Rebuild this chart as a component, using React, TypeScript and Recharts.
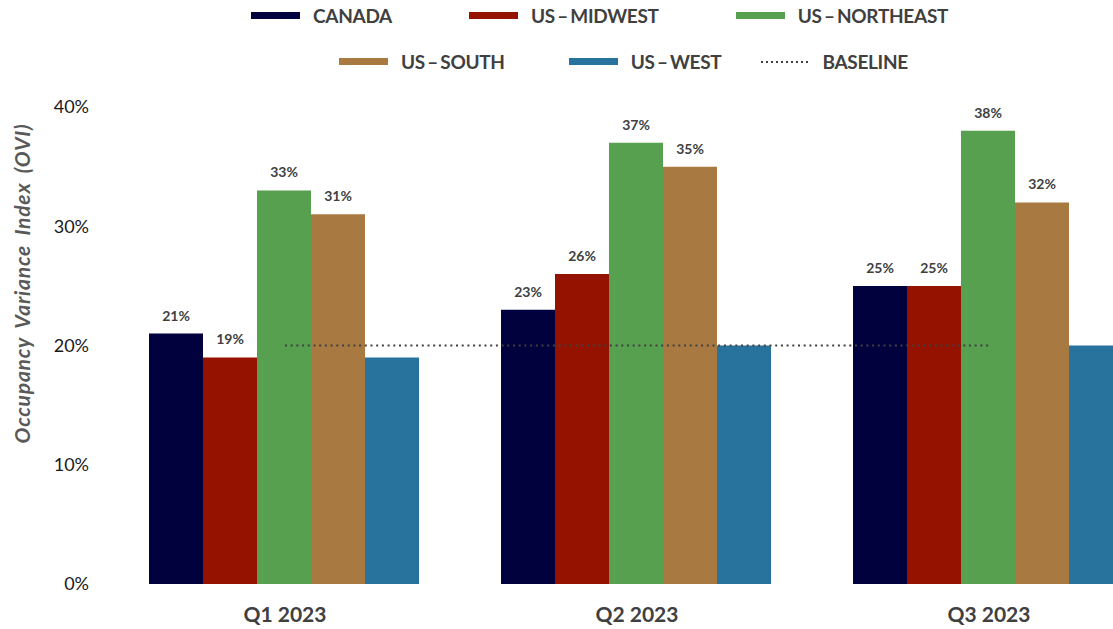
import { Bar, ComposedChart, LabelList, Legend, Line, XAxis, YAxis } from "recharts"

const quarters = ["Q1 2023", "Q2 2023", "Q3 2023"]
const canada = [21, 23, 25]
const usMidwest = [19, 26, 25]
const usNortheast = [33, 37, 38]
const usSouth = [31, 35, 32]
const usWest = [19, 20, 20]
const baseline = [20, 20, 20]
const yTicks = [0, 10, 20, 30, 40]

const data = quarters.map((quarter, i) => ({
  quarter,
  canada: canada[i],
  midwest: usMidwest[i],
  northeast: usNortheast[i],
  south: usSouth[i],
  west: usWest[i],
  baseline: baseline[i],
}))

const FONT = "Lato, 'Open Sans', sans-serif"
const TEXT_GRAY = "#404040"

const labelStyle = { fill: TEXT_GRAY, fontSize: 14, fontWeight: 700, fontFamily: FONT }
const pct = (v: any) => `${v}%`

// legend rows: where each row starts and the gaps between its items
const legendRows = [
  { count: 3, left: 251, top: 4, gaps: [77, 77] },
  { count: 3, left: 339, top: 50, gaps: [64, 40] },
]

function ChartLegend(props: any) {
  const raw = props.payload || []
  // bars first, then the dotted baseline
  const payload = [...raw.filter((e: any) => e.type !== "plainline"), ...raw.filter((e: any) => e.type === "plainline")]
  let start = 0
  return (
    <div style={{ position: "relative", height: 86, width: 1113, fontFamily: FONT }}>
      {legendRows.map((row, r) => {
        const items = payload.slice(start, start + row.count)
        start += row.count
        return (
          <div key={r} style={{ position: "absolute", top: row.top, left: row.left, display: "flex" }}>
            {items.map((entry: any, i: number) => (
              <div
                key={entry.value}
                style={{ display: "flex", alignItems: "center", gap: 13, marginRight: row.gaps[i] || 0 }}
              >
                {entry.type === "plainline" ? (
                  <svg width={48} height={10}>
                    <line x1={0} y1={5} x2={48} y2={5} stroke={entry.color} strokeWidth={2} strokeDasharray="2 3" />
                  </svg>
                ) : (
                  <div style={{ width: 49, height: 7, background: entry.color }} />
                )}
                <span style={{ color: TEXT_GRAY, fontSize: 19, fontWeight: 700, letterSpacing: -0.3, wordSpacing: -2 }}>
                  {entry.value}
                </span>
              </div>
            ))}
          </div>
        )
      })}
    </div>
  )
}

function YLabel(props: any) {
  const vb = props.viewBox
  const x = vb.x + 21
  const y = vb.y + vb.height / 2 - 62
  return (
    <text
      x={x}
      y={y}
      transform={`rotate(-90, ${x}, ${y})`}
      textAnchor="middle"
      dominantBaseline="central"
      fill="#595959"
      fontSize={21}
      fontWeight={700}
      fontStyle="italic"
      fontFamily={FONT}
      letterSpacing={0.8}
      wordSpacing={4}
    >
      Occupancy Variance Index (OVI)
    </text>
  )
}

export default function App() {
  return (
    <div style={{ position: "absolute", top: 0, left: 0, width: 1113, height: 629, overflow: "hidden", background: "#fff" }}>
      <ComposedChart
        width={1170}
        height={629}
        data={data}
        margin={{ top: 21, right: 5, bottom: 5, left: 0 }}
        barCategoryGap={40}
        barGap={0}
      >
        <XAxis
          dataKey="quarter"
          axisLine={false}
          tickLine={false}
          tickMargin={17}
          height={40}
          tick={{ fill: TEXT_GRAY, fontSize: 21, fontWeight: 700, fontFamily: FONT }}
        />
        <YAxis
          domain={[0, 40]}
          ticks={yTicks}
          tickFormatter={pct}
          axisLine={false}
          tickLine={false}
          tickMargin={14}
          width={109}
          tick={{ fill: "#1a1a1a", fontSize: 18, fontFamily: FONT }}
          label={{ content: YLabel }}
        />
        <Legend verticalAlign="top" align="left" content={ChartLegend} wrapperStyle={{ top: 0, left: 0 }} />
        <Bar dataKey="canada" name="CANADA" fill="#01013E" isAnimationActive={false}>
          <LabelList dataKey="canada" position="top" offset={13} formatter={pct} style={labelStyle} />
        </Bar>
        <Bar dataKey="midwest" name="US – MIDWEST" fill="#951200" isAnimationActive={false}>
          <LabelList dataKey="midwest" position="top" offset={13} formatter={pct} style={labelStyle} />
        </Bar>
        <Bar dataKey="northeast" name="US – NORTHEAST" fill="#57A050" isAnimationActive={false}>
          <LabelList dataKey="northeast" position="top" offset={13} formatter={pct} style={labelStyle} />
        </Bar>
        <Bar dataKey="south" name="US – SOUTH" fill="#A87A42" isAnimationActive={false}>
          <LabelList dataKey="south" position="top" offset={13} formatter={pct} style={labelStyle} />
        </Bar>
        <Bar dataKey="west" name="US – WEST" fill="#28729E" isAnimationActive={false} />
        <Line
          dataKey="baseline"
          name="BASELINE"
          stroke={TEXT_GRAY}
          strokeWidth={2}
          strokeDasharray="2 3.7"
          dot={false}
          activeDot={false}
          legendType="plainline"
          isAnimationActive={false}
        />
      </ComposedChart>
    </div>
  )
}
